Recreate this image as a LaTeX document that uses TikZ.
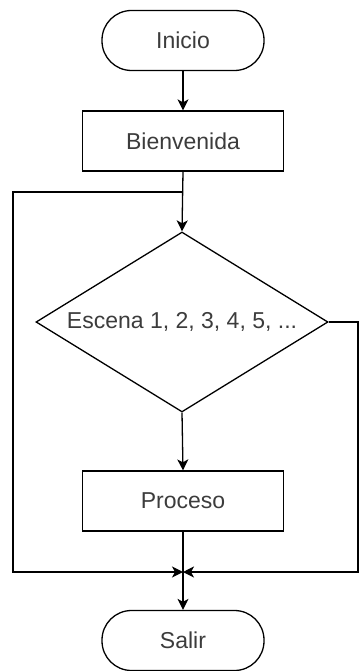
\documentclass[tikz,border=0pt]{standalone}
\usepackage{fontspec}
\setmainfont{Liberation Sans}
\usetikzlibrary{shapes.geometric,arrows.meta}
\definecolor{txt}{RGB}{60,60,60}
\begin{document}
\begin{tikzpicture}[x=1pt,y=-1pt,
  every node/.style={font=\fontsize{23}{27}\selectfont, text=txt, inner sep=0pt},
  term/.style={draw, line width=1.3pt, rounded corners=29.5pt, minimum width=162pt, minimum height=60pt},
  proc/.style={draw, line width=1.3pt, minimum width=201pt, minimum height=60pt},
  dec/.style={draw, diamond, line width=1.3pt, minimum width=292pt, minimum height=180pt},
  conn/.style={line width=1.3pt},
  arr/.style={conn, -{Stealth[length=11pt,width=11pt,inset=3pt]}}]
\useasboundingbox (0,0) rectangle (359,671);
\node[term] (ini) at (183,40.5) {Inicio};
\node[proc] (bien) at (183,141) {Bienvenida};
\node[dec] (esc) at (182,322) {\makebox[0pt]{Escena 1, 2, 3, 4, 5, ...}};
\node[proc] (pro) at (183,501) {Proceso};
\node[term] (sal) at (183,640.5) {Salir};
\coordinate (j1) at (183,192);
\coordinate (j2) at (183,572);
\coordinate (l1) at (13,192);
\coordinate (l2) at (13,572);
\coordinate (r1) at (358,322);
\coordinate (r2) at (358,572);
\draw[arr] (ini.south) -- (bien.north);
\draw[arr] (bien.south) -- (esc.north);
\draw[arr] (esc.south) -- (pro.north);
\draw[arr] (pro.south) -- (sal.north);
\draw[arr] (j1) -- (l1) -- (l2) -- (j2);
\draw[arr] (esc.east) -- (r1) -- (r2) -- (j2);
\end{tikzpicture}
\end{document}
